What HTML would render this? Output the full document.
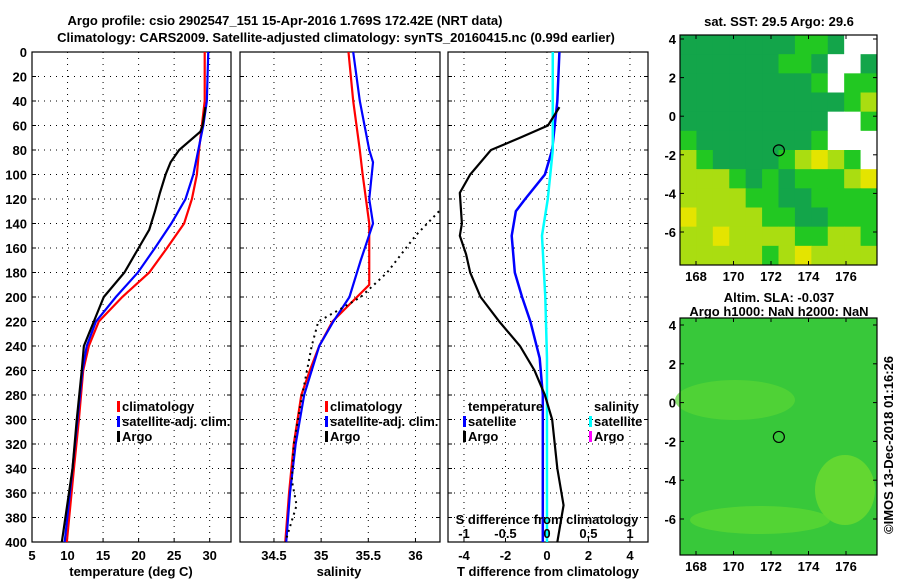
<!DOCTYPE html>
<html><head><meta charset="utf-8">
<style>
body{margin:0;background:#fff;}
svg text{font-family:"Liberation Sans",sans-serif;font-weight:bold;font-size:13px;fill:#000;}
</style></head>
<body>
<svg id="root" width="900" height="580" xmlns="http://www.w3.org/2000/svg">
<text x="285" y="25" text-anchor="middle" font-size="15">Argo profile: csio 2902547_151 15-Apr-2016 1.769S 172.42E (NRT data)</text>
<text x="336" y="42" text-anchor="middle" font-size="15">Climatology: CARS2009. Satellite-adjusted climatology: synTS_20160415.nc (0.99d earlier)</text>
<g id="g"></g>
</svg>
<script>
const NS="http://www.w3.org/2000/svg";
const G=document.getElementById('g');
function el(t,a,p){const e=document.createElementNS(NS,t);for(const k in a)e.setAttribute(k,a[k]);(p||G).appendChild(e);return e;}
const depthTicks=[0,20,40,60,80,100,120,140,160,180,200,220,240,260,280,300,320,340,360,380,400];
// Panel 1 data: temperature
const tDepth=[0,40,60,80,100,120,140,160,180,200,220,240,260,300,340,400];
const tClim=[29.3,29.3,28.9,28.5,28.2,27.5,26.4,24.0,21.5,17.7,14.4,13.0,12.2,11.6,10.9,9.9];
const tSat=[29.8,29.6,29.1,28.4,27.7,26.6,24.6,22.3,19.9,16.8,14.0,12.7,12.1,11.4,10.7,9.6];
const argoTDepth=[45,60,65,80,90,100,115,130,145,160,180,200,220,240,260,300,340,400];
const argoT=[29.4,29.0,28.7,25.7,24.5,23.8,23.0,22.3,21.5,20.0,18.0,15.1,13.7,12.3,12.0,11.3,10.7,9.2];
// Panel 2 data: salinity
const sDepth=[0,40,80,100,140,190,200,220,240,260,280,320,360,400];
const sClim=[35.29,35.34,35.41,35.44,35.51,35.51,35.38,35.12,34.98,34.88,34.79,34.71,34.66,34.62];
const sSatDepth=[0,40,80,90,120,140,170,200,220,240,280,320,360,400];
const sSat=[35.34,35.41,35.51,35.55,35.51,35.55,35.42,35.30,35.13,34.98,34.82,34.73,34.67,34.63];
const argoSDepth=[130,150,180,200,210,220,240,280,320,350,370,400];
const argoS=[36.25,36.0,35.7,35.42,35.2,34.97,34.9,34.8,34.71,34.69,34.74,34.62];
// Panel 3 data: differences
const dArgoDepth=[45,60,70,80,100,115,140,150,165,180,200,220,240,260,280,300,340,370,390,400];
const dArgoT=[0.6,0.05,-1.3,-2.7,-3.7,-4.2,-4.1,-4.2,-3.9,-3.7,-3.2,-2.3,-1.3,-0.6,-0.1,0.25,0.5,0.8,0.6,0.5];
const dSatDepth=[0,40,80,100,120,130,150,180,200,220,250,280,320,400];
const dSatT=[0.6,0.5,0.25,-0.1,-1.05,-1.5,-1.7,-1.55,-1.2,-0.8,-0.35,-0.2,-0.2,-0.2];
const dSalDepth=[0,80,120,150,200,250,400];
const dSalS=[0.07,0.07,0.01,-0.06,-0.02,0.0,0.0];

const Y0=52,Y1=542;
function yD(d){return Y0+(Y1-Y0)*d/400;}
function panel(name,x0,x1,vmin,vmax,xt,xtl){
  const fx=v=>x0+(x1-x0)*(v-vmin)/(vmax-vmin);
  const g=el('g',{});
  
  
  depthTicks.forEach(d=>{if(d>0&&d<400)el('line',{x1:x0,x2:x1,y1:yD(d),y2:yD(d),stroke:'#000','stroke-dasharray':'1 5'},g);
    el('line',{x1:x0,x2:x0+4,y1:yD(d),y2:yD(d),stroke:'#000'},g);el('line',{x1:x1,x2:x1-4,y1:yD(d),y2:yD(d),stroke:'#000'},g);});
  xt.forEach((v,i)=>{const x=fx(v);if(x>x0+2&&x<x1-2)el('line',{x1:x,x2:x,y1:Y0,y2:Y1,stroke:'#000','stroke-dasharray':'1 5'},g);
    el('line',{x1:x,x2:x,y1:Y1,y2:Y1-4,stroke:'#000'},g);
    if(xtl){const t=el('text',{x:x,y:Y1+18,'text-anchor':'middle'},g);t.textContent=xtl[i];}});
  el('rect',{x:x0,y:Y0,width:x1-x0,height:Y1-Y0,fill:'none',stroke:'#000','stroke-width':1.2},g);
  return fx;
}
function line(fx,ds,vs,col,w,name,dash){
  const p=el('polyline',{points:ds.map((d,i)=>fx(vs[i])+','+yD(d)).join(' '),fill:'none',stroke:col,'stroke-width':w});
  if(dash)p.setAttribute('stroke-dasharray',dash);
  
  
}
function txt(x,y,s,name,anchor,size){const t=el('text',{x:x,y:y});if(anchor)t.setAttribute('text-anchor',anchor);if(size)t.setAttribute('font-size',size);t.textContent=s;
  
  return t;}
function leg(x,y,col,s,name){el('rect',{x:x,y:y-10,width:3,height:11,fill:col});txt(x+5,y,s,name);}

depthTicks.forEach(d=>{txt(27,yD(d)+5,String(d),'depth-tick-label','end');});
const f1=panel('temperature-panel',32,231,5,33,[5,10,15,20,25,30],['5','10','15','20','25','30']);
line(f1,tDepth,tClim,'#ff0000',2.2,'climatology-temperature-line');
line(f1,tDepth,tSat,'#0000ff',2.2,'satellite-adj-temperature-line');
line(f1,argoTDepth,argoT,'#000',2.2,'argo-temperature-line');
txt(131,576,'temperature (deg C)','x-axis-title-temperature','middle');
leg(117,411,'#f00','climatology','legend-climatology');
leg(117,426,'#00f','satellite-adj. clim.','legend-satellite-adj');
leg(117,441,'#000','Argo','legend-argo');
const f2=panel('salinity-panel',240,440,34.14,36.26,[34.5,35,35.5,36],['34.5','35','35.5','36']);
line(f2,sDepth,sClim,'#ff0000',2.2,'climatology-salinity-line');
line(f2,sSatDepth,sSat,'#0000ff',2.2,'satellite-adj-salinity-line');
line(f2,argoSDepth,argoS,'#000',2,'argo-salinity-line','2 4');
txt(339,576,'salinity','x-axis-title-salinity','middle');
leg(325,411,'#f00','climatology','legend-climatology-2');
leg(325,426,'#00f','satellite-adj. clim.','legend-satellite-adj-2');
leg(325,441,'#000','Argo','legend-argo-2');
const f3=panel('difference-panel',448,648,-4.77,4.87,[-4,-2,0,2,4],['-4','-2','0','2','4']);
const fs=v=>f3(v*4);
line(f3,dSatDepth,dSatT,'#0000ff',2.5,'satellite-temperature-difference-line');
line(fs,dSalDepth,dSalS,'#00ffff',2.5,'satellite-salinity-difference-line');
line(f3,dArgoDepth,dArgoT,'#000',2.2,'argo-temperature-difference-line');
txt(548,576,'T difference from climatology','x-axis-title-t-difference','middle');
txt(547,524,'S difference from climatology','s-difference-axis-title','middle');
[-1,-0.5,0,0.5,1].forEach(v=>txt(fs(v),538,String(v),'s-difference-tick-label','middle'));
txt(468,411,'temperature','legend-temperature-header');
leg(463,426,'#00f','satellite','legend-temp-satellite');
leg(463,441,'#000','Argo','legend-temp-argo');
txt(594,411,'salinity','legend-salinity-header');
leg(589,426,'#0ff','satellite','legend-sal-satellite');
leg(589,441,'#f0f','Argo','legend-sal-argo');

const lonTicks=[168,170,172,174,176];
const latTicks=[4,2,0,-2,-4,-6];
const sstRows=[
"GGGGGGGggGWW",
"GGGGGGggGWWG",
"GGGGGGGGgWgg",
"GGGGGGGGGGgy",
"GGGGGGGGGWWg",
"gGGGGGGGgWWW",
"ygGGGGgyYygW",
"yyygGgGgggyY",
"yyyyggGGgggg",
"YyyyyggGGggg",
"yyYyyyyggyyg",
"yyyyygyYyyyy"];
const sstColors={G:'#13a54a',g:'#22c822',y:'#aadd11',Y:'#e4e400',W:'#ffffff'};
function map(name,x0,x1,y0,y1,lat4y,latm6y){
  const g=el('g',{});
  
  
  const lon=v=>696+(v-168)*18.75;
  const lat=v=>lat4y+(4-v)*(latm6y-lat4y)/10;
  return {g,lon,lat,x0,x1,y0,y1};
}
function frame(m){
  const g=m.g;
  el('rect',{x:m.x0,y:m.y0,width:m.x1-m.x0,height:m.y1-m.y0,fill:'none',stroke:'#000','stroke-width':1.2},g);
  lonTicks.forEach(v=>{const x=m.lon(v);el('line',{x1:x,x2:x,y1:m.y0,y2:m.y0+4,stroke:'#000'},g);el('line',{x1:x,x2:x,y1:m.y1,y2:m.y1-4,stroke:'#000'},g);
    const t=el('text',{x:x,y:m.y1+16,'text-anchor':'middle'},g);t.textContent=v;});
  latTicks.forEach(v=>{const y=m.lat(v);el('line',{x1:m.x0,x2:m.x0+4,y1:y,y2:y,stroke:'#000'},g);el('line',{x1:m.x1,x2:m.x1-4,y1:y,y2:y,stroke:'#000'},g);
    const t=el('text',{x:m.x0-4,y:y+5,'text-anchor':'end'},g);t.textContent=v;});
  el('circle',{cx:m.lon(172.42),cy:m.lat(-1.769),r:5.5,fill:'none',stroke:'#000','stroke-width':1.2},g);
}
const m1=map('sst-map',680,877,35,265,39,232);
const cw=(m1.x1-m1.x0)/12,ch=(m1.y1-m1.y0)/12;
sstRows.forEach((r,i)=>[...r].forEach((c,j)=>{el('rect',{x:m1.x0+j*cw,y:m1.y0+i*ch,width:cw+0.5,height:ch+0.5,fill:sstColors[c]},m1.g);}));
frame(m1);
txt(779,26,'sat. SST: 29.5 Argo: 29.6','sst-map-title','middle');
const m2=map('sla-map',680,877,318,555,325,519);
el('rect',{x:680,y:318,width:197,height:237,fill:'#38c83a'},m2.g);
el('ellipse',{cx:735,cy:400,rx:60,ry:20,fill:'#5ad534',opacity:0.7},m2.g);
el('ellipse',{cx:845,cy:490,rx:30,ry:35,fill:'#6edb30',opacity:0.8},m2.g);
el('ellipse',{cx:760,cy:520,rx:70,ry:14,fill:'#60d832',opacity:0.7},m2.g);
frame(m2);
txt(779,302,'Altim. SLA: -0.037','sla-map-title','middle');
txt(779,316,'Argo h1000: NaN h2000: NaN','sla-map-subtitle','middle');
const c=txt(0,0,'©IMOS 13-Dec-2018 01:16:26','imos-credit','middle',11);
c.setAttribute('transform','translate(893,445) rotate(-90)');
c.setAttribute('font-weight','normal');
</script>
</body></html>
